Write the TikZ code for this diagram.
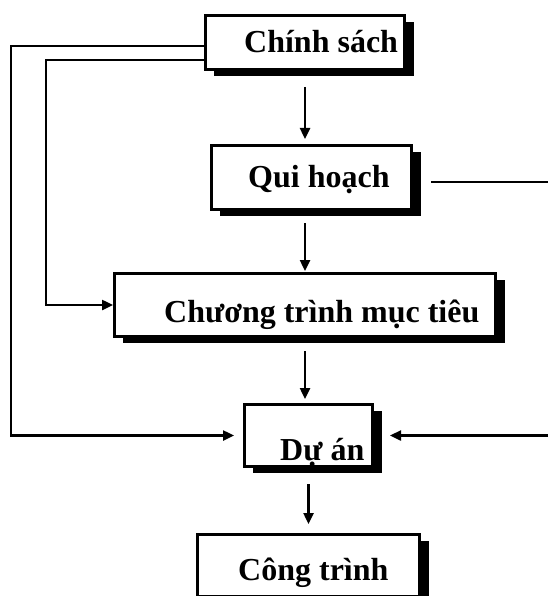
\documentclass[tikz,border=0pt]{standalone}
\usepackage{fontspec}
\setmainfont{Liberation Serif}
\usetikzlibrary{arrows.meta,shadows}
\begin{document}
\begin{tikzpicture}[x=1pt,y=-1pt,->,>={Triangle[length=11pt,width=10pt]},line width=2.4pt]
    \tikzset{box/.style={draw=black,fill=white,line width=2.6pt,rectangle,inner sep=0pt,
        drop shadow={shadow xshift=9pt,shadow yshift=-6.5pt,opacity=1,fill=black}}};
    \tikzset{lbl/.style={anchor=base west,inner sep=0pt,font=\bfseries\fontsize{32}{36}\selectfont}};
    \useasboundingbox (0,0) rectangle (548,596);
    \node[box, minimum width=199.4pt, minimum height=54.4pt] (cs) at (305,42.5) {};
    \node[box, minimum width=200.4pt, minimum height=64.4pt] (qh) at (311.5,177.5) {};
    \node[box, minimum width=381.4pt, minimum height=63.4pt] (ct) at (305,305) {};
    \node[box, minimum width=128.4pt, minimum height=62.4pt] (da) at (308.5,435.5) {};
    \node[box, minimum width=222.4pt, minimum height=62.4pt] (cong) at (308.5,565.5) {};
    \node[lbl] (csT) at (243,53) {Chính sách};
    \node[lbl] (qhT) at (247,187) {Qui hoạch};
    \node[lbl] (ctT) at (163,322) {Chương trình mục tiêu};
    \node[lbl] (daT) at (279,460) {Dự án};
    \node[lbl] (congT) at (237,580) {Công trình};
    \coordinate (qhR) at (548,182);
    \coordinate (daR) at (548,435.5);
    {
      \path
        (cs.south) edge[shorten <=16pt, shorten >=5pt] (cs.south |- qh.north)
        (qh.south -| ct.north) edge[shorten <=12pt, shorten >=1pt] (ct.north)
        (ct.south) edge[shorten <=13pt, shorten >=4pt] (ct.south |- da.north)
        (da.south) edge[shorten <=16pt, shorten >=9pt] (cong.north)
        (qhR -| qh.east) edge[-, shorten <=18pt] (qhR)
        (daR) edge[shorten >=16pt] (da.east)
        ;
      }
    \draw ([yshift=-3.5pt]cs.west) -- ++(-193,0) |- (da.west) [shorten >=9pt];
    \draw ([yshift=-17.5pt]cs.west) -- ++(-158,0) |- (ct.west);
\end{tikzpicture}
\end{document}
